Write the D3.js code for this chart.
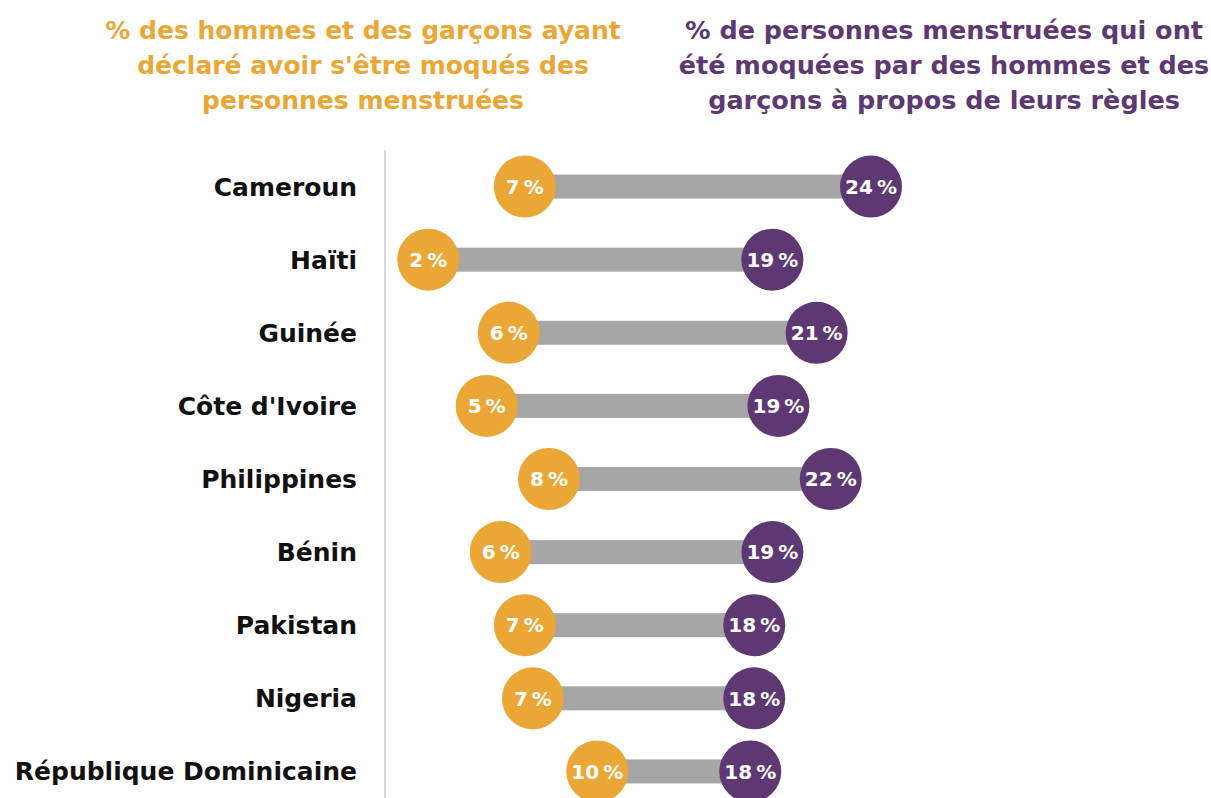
<!DOCTYPE html>
<html>
<head>
<meta charset="utf-8">
<script src="https://cdn.jsdelivr.net/npm/d3@7"></script>
<style>
  html, body { margin: 0; padding: 0; background: #fff; }
  svg { display: block; font-family: "DejaVu Sans", sans-serif; }
</style>
</head>
<body>
<svg id="chart" width="1211" height="798"></svg>
<script>
const countries = ["Cameroun", "Haïti", "Guinée", "Côte d'Ivoire", "Philippines", "Bénin", "Pakistan", "Nigeria", "République Dominicaine"];
const menValues = [6.8, 2.0, 6.0, 4.9, 8.0, 5.6, 6.8, 7.2, 10.4];
const womenValues = [24.0, 19.1, 21.3, 19.4, 22.0, 19.1, 18.2, 18.2, 18.0];
const menTitle = ["% des hommes et des garçons ayant", "déclaré avoir s'être moqués des", "personnes menstruées"];
const womenTitle = ["% de personnes menstruées qui ont", "été moquées par des hommes et des", "garçons à propos de leurs règles"];

const orange = "#eba736";
const purple = "#5e3872";
const grey = "#a6a6a6";

const svg = d3.select("#chart");
const x = d3.scaleLinear().domain([0, 24]).range([388, 871]);
const y = d3.scaleBand().domain(countries).range([150, 808]).paddingInner(0).paddingOuter(0);
const cy = d => y(d) + y.bandwidth() / 2;

const fmt = v => Math.round(v) + "\u202F%";

// titles
function title(lines, cx, color, size) {
  const t = svg.append("text").attr("text-anchor", "middle").attr("fill", color)
    .attr("font-size", size).attr("font-weight", 700);
  lines.forEach((l, i) => t.append("tspan").attr("x", cx).attr("y", 39 + i * 35).text(l));
}
title(menTitle, 363, orange, 25);
title(womenTitle, 944, purple, 25.5);

// vertical axis line
svg.append("line").attr("x1", 385).attr("x2", 385).attr("y1", 150).attr("y2", 798)
  .attr("stroke", "#d9d9d9").attr("stroke-width", 2);

// country labels
svg.append("g").selectAll("text").data(countries).join("text")
  .attr("x", 357).attr("y", d => cy(d)).attr("dy", "0.36em")
  .attr("text-anchor", "end").attr("font-size", 25).attr("font-weight", 700).attr("fill", "#111")
  .text(d => d);

const rows = countries.map((c, i) => ({ c, m: menValues[i], w: womenValues[i] }));

// bars
svg.append("g").selectAll("rect").data(rows).join("rect")
  .attr("x", d => x(d.m)).attr("width", d => x(d.w) - x(d.m))
  .attr("y", d => cy(d.c) - 12).attr("height", 24).attr("fill", grey);

const R = 31;
function dots(key, color) {
  const g = svg.append("g");
  g.selectAll("circle").data(rows).join("circle")
    .attr("cx", d => x(d[key])).attr("cy", d => cy(d.c)).attr("r", R).attr("fill", color);
  g.selectAll("text").data(rows).join("text")
    .attr("x", d => x(d[key])).attr("y", d => cy(d.c)).attr("dy", "0.36em")
    .attr("text-anchor", "middle").attr("fill", "#fff").attr("font-size", 20).attr("font-weight", 700)
    .attr("letter-spacing", -0.8)
    .text(d => fmt(d[key]));
}
dots("m", orange);
dots("w", purple);
</script>
</body>
</html>
